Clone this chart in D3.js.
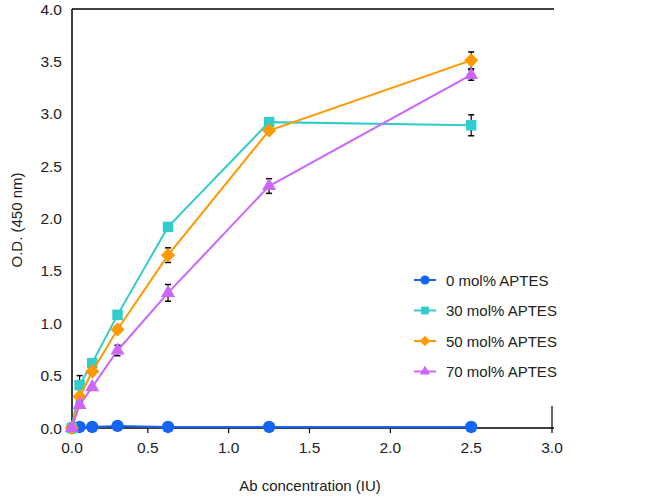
<!DOCTYPE html>
<html><head><meta charset="utf-8">
<script src="https://cdn.jsdelivr.net/npm/d3@7"></script>
<style>body{margin:0;background:#fff}svg{display:block}text{font-family:"Liberation Sans",Arial,sans-serif;fill:#222}</style>
</head><body><svg id="c" width="661" height="498"></svg>
<script>
const concentrations = [0.03, 0.078, 0.156, 0.3125, 0.625, 1.25, 2.5];
const seriesNames = ["0 mol% APTES", "30 mol% APTES", "50 mol% APTES", "70 mol% APTES"];
const apts0  = [0.00, 0.01, 0.01, 0.02, 0.01, 0.01, 0.01];
const apts30 = [0.00, 0.41, 0.62, 1.08, 1.92, 2.92, 2.89];
const apts50 = [0.00, 0.30, 0.54, 0.94, 1.65, 2.84, 3.51];
const apts70 = [0.00, 0.22, 0.39, 0.74, 1.29, 2.31, 3.37];
const err0  = [0, 0, 0, 0, 0, 0, 0];
const err30 = [0, 0.09, 0.03, 0.02, 0.02, 0.02, 0.10];
const err50 = [0, 0.03, 0.03, 0.03, 0.07, 0.03, 0.08];
const err70 = [0, 0.03, 0.02, 0.05, 0.08, 0.07, 0.05];
const xTicks = [0, 0.5, 1.0, 1.5, 2.0, 2.5, 3.0];
const yTicks = [0, 0.5, 1.0, 1.5, 2.0, 2.5, 3.0, 3.5, 4.0];
const colors = ["#1565f5", "#33cccc", "#ff9900", "#cc66ff"];
const symbols = [d3.symbolCircle, d3.symbolSquare, d3.symbolSquare, d3.symbolTriangle];
const symRot = [0, 0, 45, 0];
const symSizes = [120, 110, 100, 85];

const values = [apts0, apts30, apts50, apts70];
const errs = [err0, err30, err50, err70];

const svg = d3.select("#c");
const pL = 72, pR = 553, pT = 9, pB = 428;
const x = d3.scaleLinear().domain([0, 3]).range([67, 552]);
const y = d3.scaleLinear().domain([0, 4]).range([pB, pT]);

// axes frame
svg.append("line").attr("x1", pL).attr("x2", pL).attr("y1", pT).attr("y2", pB).attr("stroke", "#000").attr("stroke-width", 1.5);
svg.append("line").attr("x1", pL).attr("x2", pR + 1).attr("y1", pT).attr("y2", pT).attr("stroke", "#000").attr("stroke-width", 1.5);
svg.append("line").attr("x1", pL).attr("x2", pR + 1).attr("y1", pB).attr("y2", pB).attr("stroke", "#000").attr("stroke-width", 1.5);

// x ticks
const xt = svg.append("g");
xTicks.forEach(t => {
  const px = Math.max(x(t), pL);
  if (t > 0) xt.append("line").attr("x1", x(t)).attr("x2", x(t)).attr("y1", t === 3 ? pB - 22 : pB).attr("y2", pB + 5).attr("stroke", "#000").attr("stroke-width", 1.2);
  xt.append("text").attr("x", px).attr("y", pB + 25).attr("text-anchor", "middle").attr("font-size", 15.5).text(t.toFixed(1));
});
// y ticks
yTicks.forEach(t => {
  svg.append("text").attr("x", 62).attr("y", y(t) + 5.5).attr("text-anchor", "end").attr("font-size", 15.5).text(t.toFixed(1));
});

svg.append("text").attr("x", 310).attr("y", 491).attr("text-anchor", "middle").attr("font-size", 15).text("Ab concentration (IU)");
svg.append("text").attr("transform", "translate(22,220) rotate(-90)").attr("text-anchor", "middle").attr("font-size", 15).text("O.D. (450 nm)");

const line = d3.line().x(d => x(d[0])).y(d => y(d[1]));
values.forEach((vals, i) => {
  const pts = concentrations.map((c, j) => [c, vals[j], errs[i][j]]);
  const g = svg.append("g");
  g.append("path").datum(pts).attr("d", line).attr("fill", "none").attr("stroke", colors[i]).attr("stroke-width", 2);
  pts.filter(p => p[2] > 0).forEach(p => {
    const cx = x(p[0]);
    g.append("line").attr("x1", cx).attr("x2", cx).attr("y1", y(p[1] + p[2])).attr("y2", y(p[1] - p[2])).attr("stroke", "#000").attr("stroke-width", 1.2);
    [p[1] + p[2], p[1] - p[2]].forEach(v => g.append("line").attr("x1", cx - 3).attr("x2", cx + 3).attr("y1", y(v)).attr("y2", y(v)).attr("stroke", "#000").attr("stroke-width", 1.5));
  });
  g.selectAll("path.m").data(pts).join("path").attr("class", "m")
    .attr("transform", d => `translate(${x(d[0])},${y(d[1])}) rotate(${symRot[i]})`)
    .attr("d", d3.symbol().type(symbols[i]).size(symSizes[i])).attr("fill", colors[i]);
});

// legend
const lg = svg.append("g");
seriesNames.forEach((name, i) => {
  const ly = 280 + i * 30.5;
  lg.append("line").attr("x1", 414).attr("x2", 436).attr("y1", ly).attr("y2", ly).attr("stroke", colors[i]).attr("stroke-width", 2);
  lg.append("path").attr("transform", `translate(425,${ly}) rotate(${symRot[i]})`).attr("d", d3.symbol().type(symbols[i]).size(symSizes[i] * 0.55)).attr("fill", colors[i]);
  lg.append("text").attr("x", 446).attr("y", ly + 5.5).attr("font-size", 15).text(name);
});
</script></body></html>
